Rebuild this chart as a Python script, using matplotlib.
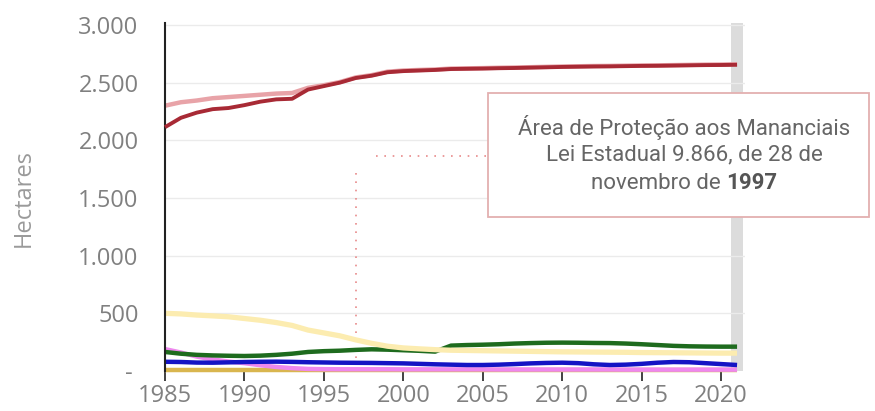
import matplotlib
matplotlib.use("Agg")
import matplotlib.pyplot as plt
from matplotlib.patches import Rectangle
from matplotlib.ticker import FixedLocator, FuncFormatter

years = list(range(1985, 2022))

urbano = [2114, 2195, 2240, 2270, 2280, 2305, 2335, 2355, 2360, 2440, 2470, 2500,
          2540, 2560, 2590, 2600, 2605, 2610, 2618, 2620, 2622, 2625, 2627, 2630,
          2633, 2636, 2638, 2640, 2641, 2643, 2645, 2646, 2648, 2650, 2652, 2653, 2655]
urbano_claro = [2300, 2330, 2345, 2365, 2375, 2385, 2395, 2405, 2410, 2455, 2478, 2505,
                2545, 2565, 2595, 2605, 2610, 2614, 2622, 2624, 2626, 2629, 2631, 2634,
                2637, 2640, 2642, 2644, 2645, 2647, 2649, 2650, 2652, 2654, 2656, 2657, 2659]
campo = [500, 495, 485, 478, 470, 455, 440, 420, 395, 355, 330, 305,
         270, 240, 215, 200, 192, 185, 180, 178, 176, 174, 172, 170,
         168, 166, 165, 164, 163, 162, 160, 159, 158, 157, 156, 155, 155]
floresta = [165, 150, 140, 135, 132, 130, 133, 140, 150, 165, 172, 176,
            183, 188, 185, 180, 175, 168, 220, 225, 228, 232, 238, 242,
            245, 246, 245, 243, 242, 238, 232, 225, 218, 214, 212, 211, 211]
agua = [80, 78, 73, 72, 75, 78, 80, 81, 79, 76, 74, 72,
        71, 70, 68, 66, 62, 58, 55, 52, 52, 55, 60, 66,
        70, 72, 68, 58, 52, 55, 62, 72, 78, 76, 68, 60, 52]
outros = [190, 160, 125, 100, 82, 68, 50, 35, 25, 18, 16, 15,
          15, 15, 15, 14, 14, 14, 14, 14, 14, 13, 13, 13,
          13, 13, 13, 13, 13, 12, 12, 12, 12, 12, 12, 12, 12]
mineracao = [5] * 37

y_ticks = [0, 500, 1000, 1500, 2000, 2500, 3000]
x_ticks = [1985, 1990, 1995, 2000, 2005, 2010, 2015, 2020]
lei_ano = 1997
destaque_ano = 2021

fig = plt.figure(figsize=(8.75, 4.11), dpi=100)
ax = fig.add_axes([165 / 875, 40 / 411, 580 / 875, 348 / 411])
ax.set_xlim(1985, 2021.5)
ax.set_ylim(0, 3017)

ax.axvspan(destaque_ano - 0.38, destaque_ano + 0.38, color="#dcdcdc", zorder=0, lw=0)
for v in y_ticks[1:]:
    ax.axhline(v, color="#ebebeb", lw=1, zorder=0.5)

kw = dict(solid_capstyle="butt", clip_on=False)
ax.plot(years, mineracao, color="#d9b64f", lw=3.2, zorder=2, **kw)
ax.plot(years, outros, color="#ee88ee", lw=3.2, zorder=2.1, **kw)
ax.plot(years, agua, color="#1414c4", lw=3.2, zorder=2.2, **kw)
ax.plot(years, floresta, color="#1e6b1e", lw=3.2, zorder=2.3, **kw)
ax.plot(years, campo, color="#fcecb0", lw=3.8, zorder=2.4, **kw)
ax.plot(years, urbano_claro, color="#e8a3a8", lw=3.2, zorder=2.5, **kw)
ax.plot(years, urbano, color="#a82a35", lw=2.8, zorder=2.6, **kw)

# annotation guides
ax.plot([lei_ano, lei_ano], [110, 1725], color="#e88a8a", lw=1.2, ls=(0, (1, 4)), zorder=1)
ax.plot([1998.3, 2005.2], [1863, 1863], color="#e88a8a", lw=1.2, ls=(0, (1, 4)), zorder=1)

for s in ["top", "right", "bottom"]:
    ax.spines[s].set_visible(False)
ax.spines["left"].set_color("#222")
ax.spines["left"].set_linewidth(1.5)
ax.spines["left"].set_bounds(0, 3017)

ax.xaxis.set_major_locator(FixedLocator(x_ticks))
ax.yaxis.set_major_locator(FixedLocator(y_ticks))
ax.yaxis.set_major_formatter(FuncFormatter(
    lambda v, p: "- " if v == 0 else f"{int(v):,}".replace(",", ".")))
ax.tick_params(axis="x", length=7, width=1.3, color="#333", pad=2,
               labelsize=17, labelcolor="#808080")
ax.tick_params(axis="y", length=0, pad=19, labelsize=17, labelcolor="#808080")
for lab in ax.get_xticklabels() + ax.get_yticklabels():
    lab.set_family("Open Sans")

fig.text(24 / 875, 1 - 198 / 411, "Hectares", rotation=90, ha="center", va="center",
         fontsize=17, color="#9a9a9a", family="Open Sans")

# annotation box
fig.patches.append(Rectangle((488 / 875, 1 - 217 / 411), 381 / 875, 124 / 411,
                             transform=fig.transFigure, facecolor="white",
                             edgecolor="#e3b0b0", lw=1.3, zorder=5))
cx = 684 / 875
fs = 16
tc = "#666666"
fig.text(cx, 1 - 127 / 411, "Área de Proteção aos Mananciais", ha="center", va="center",
         fontsize=fs, color=tc, family="Roboto", zorder=6)
fig.text(cx, 1 - 155 / 411, "Lei Estadual 9.866, de 28 de", ha="center", va="center",
         fontsize=fs, color=tc, family="Roboto", zorder=6)
t1 = fig.text(cx, 1 - 183 / 411, "novembro de ", ha="left", va="center",
              fontsize=fs, color=tc, family="Roboto", zorder=6)
t2 = fig.text(cx, 1 - 183 / 411, str(lei_ano), ha="left", va="center",
              fontsize=fs, color="#555555", family="Roboto", weight="bold", zorder=6)
fig.canvas.draw()
r = fig.canvas.get_renderer()
w1 = t1.get_window_extent(r).width / 875
w2 = t2.get_window_extent(r).width / 875
start = cx - (w1 + w2) / 2
t1.set_x(start)
t2.set_x(start + w1)

fig.savefig("out.png", dpi=100)
